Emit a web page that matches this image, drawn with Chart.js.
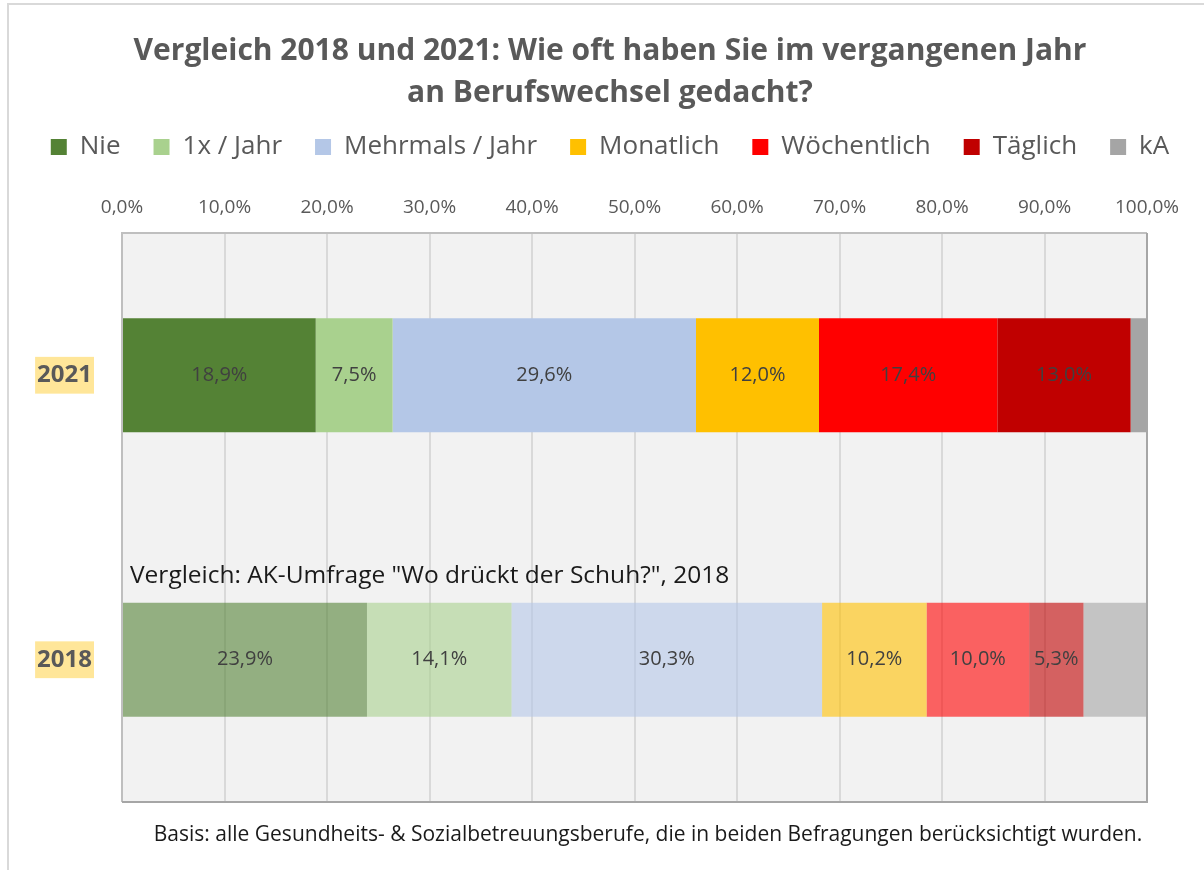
<!DOCTYPE html>
<html>
<head>
<meta charset="utf-8">
<script src="https://cdn.jsdelivr.net/npm/chart.js@4.4.1/dist/chart.umd.min.js"></script>
<style>
  html, body { margin: 0; padding: 0; background: #fff; }
  canvas { display: block; }
</style>
</head>
<body>
<canvas id="grafico" width="1204" height="870"></canvas>
<script>
// ── Daten ───────────────────────────────────────────────────────────────────
const jahre = ['2021', '2018']
const kategorien = ['Nie', '1x / Jahr', 'Mehrmals / Jahr', 'Monatlich', 'Wöchentlich', 'Täglich', 'kA']
const werte2021 = [18.9, 7.5, 29.6, 12.0, 17.4, 13.0, 1.6]
const werte2018 = [23.9, 14.1, 30.3, 10.2, 10.0, 5.3, 6.2]
const achsenTicks = [0, 10, 20, 30, 40, 50, 60, 70, 80, 90, 100]
const farben = ['#548235', '#a9d18e', '#b4c7e7', '#ffc000', '#ff0000', '#c00000', '#a5a5a5']

const titelZeilen = ['Vergleich 2018 und 2021: Wie oft haben Sie im vergangenen Jahr', 'an Berufswechsel gedacht?']
const vergleichText = 'Vergleich: AK-Umfrage "Wo drückt der Schuh?", 2018'
const basisText = 'Basis: alle Gesundheits- & Sozialbetreuungsberufe, die in beiden Befragungen berücksichtigt wurden.'

const FONT = "'Open Sans', Lato, sans-serif"
const GRAU = '#595959'

const formatProzent = (v) => `${v.toFixed(1).replace('.', ',')}%`

// Farbe mit Transparenz (2018 blasser)
function mitAlpha(hex, a) {
  const n = parseInt(hex.slice(1), 16)
  return `rgba(${(n >> 16) & 255}, ${(n >> 8) & 255}, ${n & 255}, ${a})`
}

// ── Plugin: Hintergrund, Rahmen, Beschriftungen ────────────────────────────
const extras = {
  id: 'extras',
  beforeDraw(chart) {
    const { ctx, chartArea: a } = chart
    ctx.save()
    ctx.fillStyle = '#f2f2f2'
    ctx.fillRect(a.left, a.top, a.right - a.left, a.bottom - a.top)
    // äußerer Rahmen (nur oben/links sichtbar)
    ctx.strokeStyle = '#d9d9d9'
    ctx.lineWidth = 2
    ctx.beginPath()
    ctx.moveTo(8, 870)
    ctx.lineTo(8, 4)
    ctx.lineTo(1204, 4)
    ctx.stroke()
    ctx.restore()
  },
  afterDatasetsDraw(chart) {
    const { ctx, chartArea: a } = chart
    ctx.save()
    // Rahmen Plotbereich
    ctx.lineWidth = 2
    ctx.strokeStyle = '#bfbfbf'
    ctx.beginPath()
    ctx.moveTo(a.left, a.bottom)
    ctx.lineTo(a.left, a.top)
    ctx.lineTo(a.right, a.top)
    ctx.stroke()
    ctx.strokeStyle = '#a6a6a6'
    ctx.beginPath()
    ctx.moveTo(a.right, a.top)
    ctx.lineTo(a.right, a.bottom)
    ctx.lineTo(a.left, a.bottom)
    ctx.stroke()

    // Werte in den Balken (ohne kA)
    ctx.font = `20px ${FONT}`
    ctx.fillStyle = '#404040'
    ctx.textAlign = 'center'
    ctx.textBaseline = 'middle'
    chart.data.datasets.forEach((ds, i) => {
      if (i === chart.data.datasets.length - 1) return
      chart.getDatasetMeta(i).data.forEach((el, j) => {
        const x = (el.x + el.base) / 2
        ctx.fillText(formatProzent(ds.data[j]), x, el.y)
      })
    })

    // Hinweis über dem 2018-Balken
    const bar2018 = chart.getDatasetMeta(0).data[1]
    ctx.font = `24.5px ${FONT}`
    ctx.fillStyle = '#1a1a1a'
    ctx.textAlign = 'left'
    ctx.fillText(vergleichText, a.left + 8, bar2018.y - bar2018.height / 2 - 27)

    // Fußnote
    ctx.font = `21px ${FONT}`
    ctx.textAlign = 'center'
    ctx.fillText(basisText, 648, 835)
    ctx.restore()
  },
}

// ── Diagramm ────────────────────────────────────────────────────────────────
const datasets = kategorien.map((kat, i) => ({
  label: kat,
  data: [werte2021[i], werte2018[i]],
  backgroundColor: [farben[i], mitAlpha(farben[i], 0.6)],
  borderWidth: 0,
  barPercentage: 0.4,
  categoryPercentage: 1,
}))

new Chart(document.getElementById('grafico'), {
  type: 'bar',
  data: { labels: jahre, datasets },
  options: {
    indexAxis: 'y',
    responsive: false,
    animation: false,
    devicePixelRatio: 1,
    layout: { padding: { top: 0, left: 16, right: 0, bottom: 68 } },
    plugins: {
      tooltip: { enabled: false },
      title: {
        display: true,
        text: titelZeilen,
        color: GRAU,
        font: { family: FONT, size: 30, weight: 'bold', lineHeight: 42 / 30 },
        padding: { top: 30, bottom: -13 },
      },
      legend: {
        position: 'top',
        labels: {
          color: GRAU,
          boxWidth: 16,
          boxHeight: 16,
          padding: 33,
          font: { family: FONT, size: 26 },
        },
      },
    },
    scales: {
      x: {
        position: 'top',
        stacked: true,
        min: 0,
        max: 100,
        afterBuildTicks: (scale) => {
          scale.ticks = achsenTicks.map((v) => ({ value: v }))
        },
        afterFit: (scale) => {
          scale.height = 63
        },
        ticks: {
          color: GRAU,
          padding: 14,
          maxRotation: 0,
          font: { family: FONT, size: 19 },
          callback: (v) => formatProzent(v),
        },
        grid: { color: '#d9d9d9', lineWidth: 2, drawTicks: false },
        border: { display: false },
      },
      y: {
        stacked: true,
        afterFit: (scale) => {
          scale.width = 106
        },
        ticks: {
          color: GRAU,
          padding: 22,
          font: { family: FONT, size: 24, weight: 'bold' },
          showLabelBackdrop: true,
          backdropColor: '#ffe699',
          backdropPadding: { x: 2, y: 4 },
        },
        grid: { display: false },
        border: { display: false },
      },
      // leere Achse rechts, hält Platz für die Beschriftung "100,0%" frei
      rechts: {
        type: 'linear',
        axis: 'y',
        position: 'right',
        display: true,
        afterFit: (scale) => {
          scale.width = 57
        },
        ticks: { display: false },
        grid: { display: false },
        border: { display: false },
      },
    },
  },
  plugins: [extras],
})
</script>
</body>
</html>
